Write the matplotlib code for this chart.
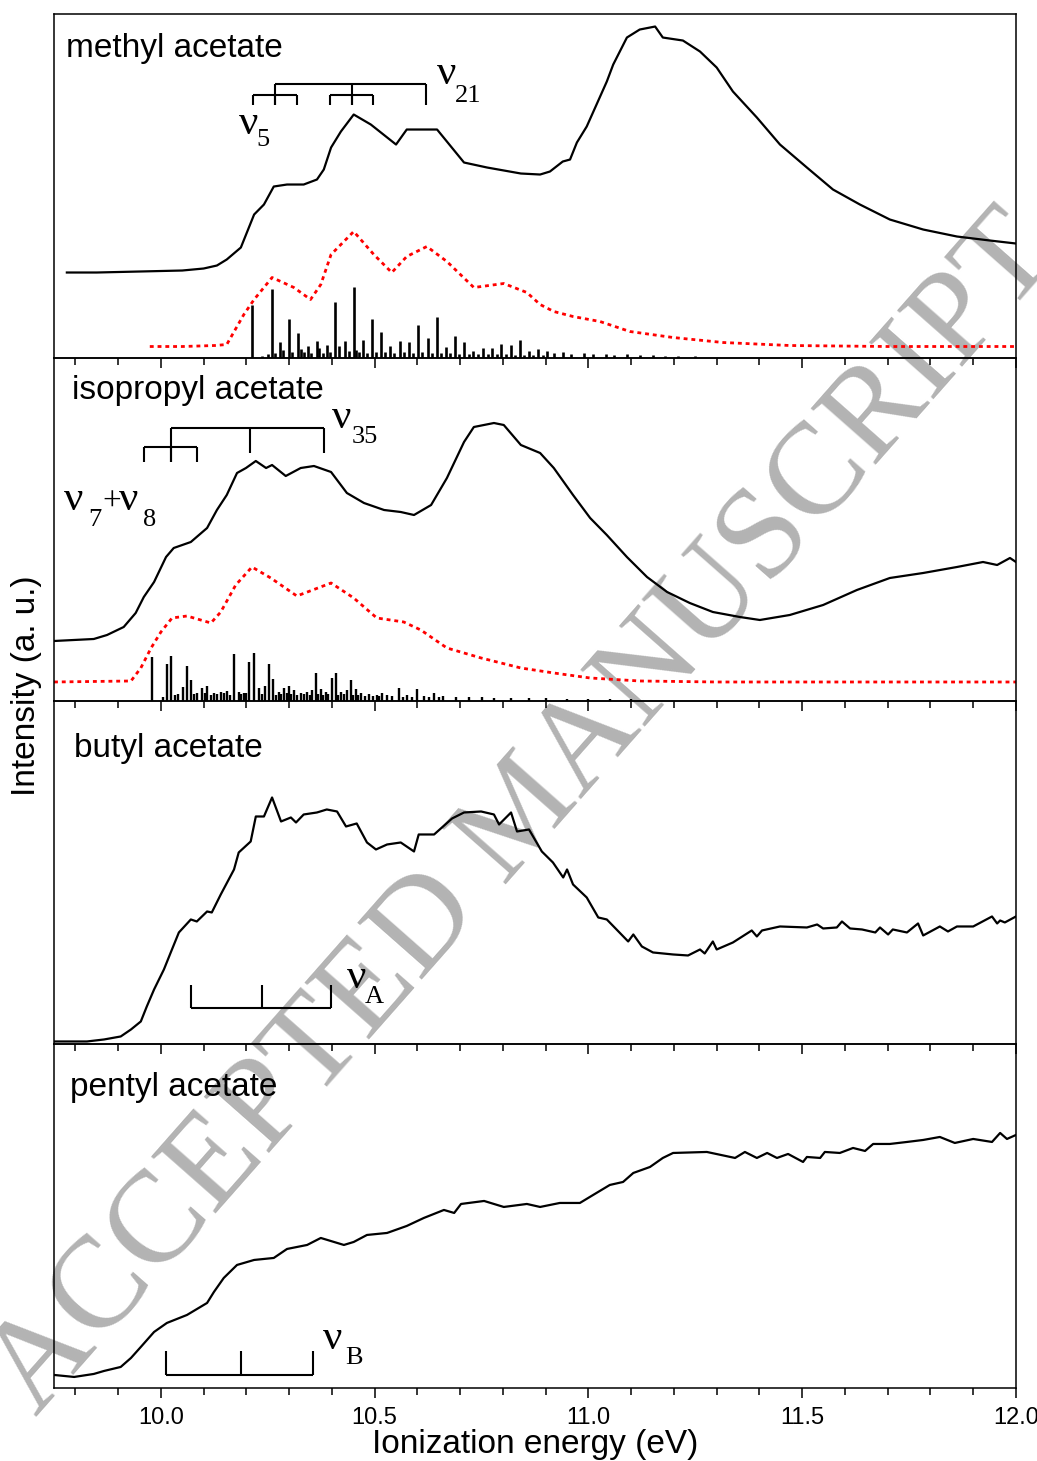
import numpy as np
import matplotlib
matplotlib.use('Agg')
import matplotlib.pyplot as plt
from matplotlib.ticker import MultipleLocator

# 光电子谱 (四种乙酸酯)，纵坐标为任意单位
# methyl acetate
e_methyl = [9.78, 9.85, 9.95, 10.05, 10.10, 10.131, 10.154, 10.187, 10.218, 10.241, 10.264, 10.295, 10.334,
            10.365, 10.381, 10.398, 10.421, 10.451, 10.491, 10.550, 10.575, 10.608, 10.646, 10.709, 10.763,
            10.842, 10.887, 10.910, 10.940, 10.957, 10.973, 10.996, 11.019, 11.043, 11.058, 11.090, 11.120,
            11.156, 11.174, 11.221, 11.261, 11.300, 11.338, 11.394, 11.448, 11.511, 11.572, 11.635, 11.705,
            11.783, 11.862, 11.939, 12.0]
i_methyl = [85, 85, 86, 87, 89, 92, 98, 110, 143, 153, 171, 173, 173,
            178, 188, 210, 226, 243, 233, 213, 228, 228, 228, 195, 190,
            184, 183, 186, 196, 198, 215, 231, 253, 276, 293, 320, 328,
            331, 320, 317, 306, 290, 266, 240, 213, 190, 168, 153, 138,
            128, 121, 117, 114]
e_methyl_calc = [9.974, 10.05, 10.126, 10.154, 10.194, 10.218, 10.260, 10.311, 10.350, 10.374, 10.398, 10.451,
                 10.498, 10.540, 10.575, 10.622, 10.669, 10.732, 10.802, 10.856, 10.887, 10.919, 10.964, 11.027,
                 11.097, 11.198, 11.315, 11.471, 11.7, 12.0]
i_methyl_calc = [11, 11, 12, 13, 43, 58, 80, 70, 58, 73, 103, 126,
                 103, 85, 101, 111, 96, 70, 74, 65, 53, 46, 41, 36,
                 26, 20, 15, 12, 11, 11]
e_methyl_fc = [10.214, 10.259, 10.278, 10.286, 10.300, 10.321, 10.327, 10.343, 10.365, 10.370, 10.388, 10.407,
               10.416, 10.431, 10.451, 10.457, 10.473, 10.494, 10.515, 10.536, 10.559, 10.580, 10.601, 10.625,
               10.645, 10.666, 10.688, 10.709, 10.730, 10.753, 10.774, 10.795, 10.818, 10.839, 10.861, 10.882,
               10.903, 10.92, 10.94, 10.96, 10.99, 11.01, 11.04, 11.06, 11.09, 11.12, 11.15, 11.18, 11.21, 11.25,
               10.236, 10.250, 10.266, 10.307, 10.335, 10.352, 10.378, 10.396, 10.440, 10.464, 10.482, 10.504,
               10.525, 10.545, 10.568, 10.590, 10.610, 10.634, 10.655, 10.677, 10.697, 10.720, 10.742, 10.764,
               10.785, 10.807, 10.828, 10.850, 10.871, 10.893]
i_methyl_fc = [53, 69, 16, 8, 39, 25, 9, 12, 17, 10, 13, 56,
               12, 17, 71, 8, 18, 39, 26, 12, 17, 16, 33, 20,
               41, 11, 22, 16, 7, 10, 10, 14, 13, 18, 7, 9,
               7, 5, 6, 4, 5, 4, 4, 3, 4, 3, 3, 2, 2, 2,
               2, 4, 5, 6, 6, 5, 5, 6, 7, 6, 5, 6,
               6, 5, 6, 5, 6, 5, 5, 5, 4, 4, 4, 4,
               4, 4, 3, 3, 3, 3]

# isopropyl acetate
e_iso = [9.750, 9.843, 9.874, 9.913, 9.941, 9.960, 9.984, 10.012, 10.030, 10.070, 10.089, 10.108, 10.131,
         10.154, 10.178, 10.199, 10.222, 10.246, 10.260, 10.292, 10.327, 10.358, 10.398, 10.435, 10.475,
         10.522, 10.561, 10.592, 10.632, 10.669, 10.709, 10.732, 10.779, 10.802, 10.842, 10.887, 10.919,
         10.964, 11.004, 11.043, 11.090, 11.137, 11.184, 11.237, 11.291, 11.354, 11.401, 11.471, 11.549,
         11.628, 11.705, 11.783, 11.862, 11.923, 11.956, 11.986, 12.0]
i_iso = [60, 62, 66, 74, 88, 104, 119, 144, 153, 159, 166, 173, 191,
         206, 228, 233, 240, 233, 236, 225, 233, 235, 229, 208, 198,
         191, 189, 186, 196, 223, 259, 274, 278, 276, 256, 248, 233,
         206, 183, 166, 144, 124, 109, 98, 89, 84, 81, 86, 96,
         111, 123, 128, 134, 139, 136, 143, 139]
e_iso_calc = [9.750, 9.930, 9.953, 9.977, 10.000, 10.026, 10.061, 10.117, 10.140, 10.175, 10.213, 10.257,
              10.318, 10.398, 10.451, 10.505, 10.568, 10.608, 10.669, 10.749, 10.842, 10.919, 11.004, 11.120,
              11.3, 12.0]
i_iso_calc = [19, 20, 33, 53, 69, 83, 85, 78, 89, 116, 134, 123,
              105, 118, 103, 83, 79, 71, 53, 43, 33, 28, 23, 20,
              19, 19]
e_iso_fc = [9.979, 10.014, 10.024, 10.040, 10.051, 10.061, 10.070, 10.084, 10.096, 10.108, 10.124, 10.140,
            10.154, 10.171, 10.182, 10.194, 10.206, 10.218, 10.229, 10.243, 10.253, 10.262, 10.276, 10.288,
            10.300, 10.311, 10.327, 10.342, 10.353, 10.363, 10.374, 10.386, 10.400, 10.409, 10.421, 10.435,
            10.444, 10.456, 10.468, 10.487, 10.505, 10.517, 10.529, 10.557, 10.575, 10.599, 10.615, 10.639,
            10.66, 10.69, 10.72, 10.75, 10.78, 10.82, 10.86, 10.90, 10.95, 11.0, 11.05, 11.1,
            10.005, 10.033, 10.078, 10.102, 10.116, 10.132, 10.147, 10.162, 10.188, 10.200, 10.236, 10.270,
            10.282, 10.294, 10.305, 10.318, 10.334, 10.348, 10.368, 10.380, 10.392, 10.415, 10.428, 10.450,
            10.462, 10.477, 10.495, 10.511, 10.540, 10.566, 10.587, 10.627, 10.650]
i_iso_fc = [44, 37, 45, 7, 14, 35, 21, 8, 13, 15, 8, 9,
            10, 47, 9, 8, 39, 48, 13, 15, 37, 22, 9, 13,
            15, 11, 8, 9, 11, 28, 12, 9, 23, 28, 9, 11,
            21, 12, 8, 7, 6, 8, 6, 13, 6, 12, 5, 8,
            5, 4, 4, 4, 3, 3, 3, 3, 2, 2, 2, 2,
            4, 6, 7, 8, 6, 7, 8, 6, 7, 8, 7, 6,
            7, 8, 7, 6, 7, 6, 7, 6, 7, 6, 7, 6,
            6, 5, 5, 5, 5, 4, 4, 4, 4]

# butyl acetate
e_butyl = [9.750, 9.827, 9.867, 9.906, 9.930, 9.953, 9.967, 9.984, 10.007, 10.023, 10.042, 10.070, 10.084,
           10.108, 10.119, 10.140, 10.171, 10.182, 10.210, 10.222, 10.241, 10.260, 10.281, 10.304, 10.316,
           10.334, 10.365, 10.388, 10.412, 10.433, 10.458, 10.482, 10.503, 10.529, 10.561, 10.592, 10.603,
           10.639, 10.681, 10.709, 10.749, 10.779, 10.791, 10.819, 10.833, 10.861, 10.891, 10.917, 10.941,
           10.950, 10.964, 10.996, 11.023, 11.043, 11.093, 11.105, 11.125, 11.151, 11.198, 11.233, 11.261,
           11.272, 11.291, 11.300, 11.338, 11.382, 11.394, 11.406, 11.448, 11.511, 11.535, 11.549, 11.581,
           11.593, 11.612, 11.640, 11.671, 11.682, 11.701, 11.712, 11.745, 11.771, 11.783, 11.822, 11.841,
           11.862, 11.900, 11.944, 11.956, 11.963, 11.974, 12.0]
i_butyl = [3, 3, 5, 8, 15, 23, 38, 55, 75, 92, 112, 125, 123,
           133, 132, 150, 175, 192, 203, 228, 228, 247, 223, 227, 222,
           230, 232, 235, 233, 218, 221, 202, 195, 200, 202, 193, 210,
           210, 226, 232, 233, 230, 220, 232, 213, 215, 193, 182, 167,
           175, 160, 147, 127, 125, 103, 110, 98, 92, 90, 89, 95,
           91, 103, 95, 102, 114, 108, 114, 118, 117, 120, 116, 117,
           123, 116, 115, 112, 117, 110, 115, 112, 121, 109, 118, 113,
           118, 118, 128, 121, 124, 122, 128]

# pentyl acetate
e_pentyl = [9.750, 9.797, 9.843, 9.867, 9.906, 9.930, 9.953, 9.984, 10.014, 10.061, 10.108, 10.124, 10.147,
            10.178, 10.218, 10.264, 10.295, 10.342, 10.374, 10.428, 10.451, 10.482, 10.529, 10.575, 10.615,
            10.662, 10.686, 10.702, 10.756, 10.802, 10.856, 10.887, 10.933, 10.980, 11.011, 11.050, 11.081,
            11.105, 11.144, 11.174, 11.198, 11.277, 11.343, 11.366, 11.394, 11.418, 11.441, 11.467, 11.502,
            11.511, 11.542, 11.553, 11.588, 11.619, 11.647, 11.666, 11.705, 11.745, 11.783, 11.822, 11.857,
            11.900, 11.944, 11.963, 11.979, 12.0]
i_pentyl = [13, 11, 14, 17, 21, 30, 41, 56, 65, 73, 85, 96, 110,
            123, 128, 130, 139, 143, 150, 143, 146, 153, 155, 162, 170,
            178, 175, 184, 187, 181, 184, 181, 185, 185, 193, 203, 206,
            215, 221, 230, 235, 236, 230, 236, 230, 235, 230, 234, 226,
            231, 230, 236, 235, 240, 237, 244, 244, 246, 248, 251, 245,
            249, 246, 255, 249, 253]

# 振动级数标记 (eV)
v5_a = [10.215, 10.267, 10.318]
v5_b = [10.395, 10.447, 10.496]
v21 = [10.267, 10.447, 10.620]
v78 = [9.960, 10.023, 10.084]
v35 = [10.023, 10.208, 10.381]
vA = [10.070, 10.236, 10.398]
vB = [10.012, 10.187, 10.356]

names = ['methyl acetate', 'isopropyl acetate', 'butyl acetate', 'pentyl acetate']
xticks = [10.0, 10.5, 11.0, 11.5, 12.0]

sans = 'Liberation Sans'
serif = 'Liberation Serif'
plt.rcParams['font.family'] = sans

fig = plt.figure(figsize=(10.37, 14.61), dpi=100)
axes = fig.subplots(4, 1, sharex=True)
fig.subplots_adjust(left=0.0521, right=0.9797, top=0.9904, bottom=0.05, hspace=0)

H = 343.5
red_style = dict(color='red', lw=2.0, linestyle=(0, (1.4, 1.4)))

for ax in axes:
    ax.set_facecolor('none')
    ax.set_xlim(9.75, 12.0)
    ax.set_ylim(0, H)
    ax.set_yticks([])
    ax.xaxis.set_major_locator(MultipleLocator(0.5))
    ax.xaxis.set_minor_locator(MultipleLocator(0.1))
    ax.tick_params(axis='x', which='both', direction='out', top=False, bottom=True, width=1.1,
                   labelsize=17, pad=7)
    ax.tick_params(axis='x', which='major', length=7)
    ax.tick_params(axis='x', which='minor', length=5)
    for s in ax.spines.values():
        s.set_linewidth(1.1)

ax1, ax2, ax3, ax4 = axes

# methyl acetate
ax1.plot(e_methyl, i_methyl, color='black', lw=1.6)
ax1.plot(e_methyl_calc, i_methyl_calc, **red_style)
ax1.vlines(e_methyl_fc, 0, i_methyl_fc, color='black', lw=1.9)

# isopropyl acetate
ax2.plot(e_iso, i_iso, color='black', lw=1.6)
ax2.plot(e_iso_calc, i_iso_calc, **red_style)
ax2.vlines(e_iso_fc, 0, i_iso_fc, color='black', lw=1.7)

ax3.plot(e_butyl, i_butyl, color='black', lw=1.6)
ax4.plot(e_pentyl, i_pentyl, color='black', lw=1.6)

label_y = [309, 311, 296, 300]
label_x = [0.0125, 0.019, 0.021, 0.017]
for ax, name, lx, ly in zip(axes, names, label_x, label_y):
    ax.text(lx, ly, name, transform=ax.get_yaxis_transform(), fontsize=24, va='center', ha='left')

def bracket(ax, pos, y0, y1, ticks=None):
    # 水平线 + 竖直短线
    ax.plot([pos[0], pos[-1]], [y0, y0], color='black', lw=1.5, solid_capstyle='butt')
    for k, p in enumerate(pos):
        yt = y1 if ticks is None else ticks[k]
        ax.plot([p, p], [y0, yt], color='black', lw=1.5, solid_capstyle='butt')

def nu(ax, x, y, sub, xs, ys, size=31, subsize=19):
    ax.text(x, y, 'ν', fontsize=size, family=serif, ha='center', va='center')
    ax.text(xs, ys, sub, fontsize=subsize, family=serif, ha='center', va='center')

bracket(ax1, v5_a, 263, 253)
bracket(ax1, v5_b, 263, 253)
bracket(ax1, v21, 274, 253)
nu(ax1, 10.669, 284, '21', 10.718, 262)
nu(ax1, 10.206, 234, '5', 10.238, 218)

bracket(ax2, v78, 254, 239)
bracket(ax2, v35, 273, 248, ticks=[239, 248, 248])
nu(ax2, 10.423, 283, '35', 10.477, 264)
nu(ax2, 9.795, 201, '7', 9.845, 181)
ax2.text(9.884, 198, '+', fontsize=24, family=serif, ha='center', va='center')
nu(ax2, 9.925, 201, '8', 9.973, 181)

bracket(ax3, vA, 36, 59)
nu(ax3, 10.458, 67, 'A', 10.500, 47)

bracket(ax4, vB, 13, 37)
nu(ax4, 10.402, 49, 'B', 10.451, 30)

ax4.set_xticks(xticks)
ax4.set_xticklabels(['%.1f' % t for t in xticks])
ax4.set_xlabel('Ionization energy (eV)', fontsize=24, labelpad=0)
fig.text(0.026, 0.531, 'Intensity (a. u.)', rotation=90, fontsize=24, ha='center', va='center')

# 水印
fig.text(0.506, 0.442, 'ACCEPTED MANUSCRIPT', rotation=48.6, fontsize=94, family=serif,
         color='#b3b3b3', ha='center', va='center', zorder=-1, rotation_mode='anchor')

fig.savefig('out.png', dpi=100)
